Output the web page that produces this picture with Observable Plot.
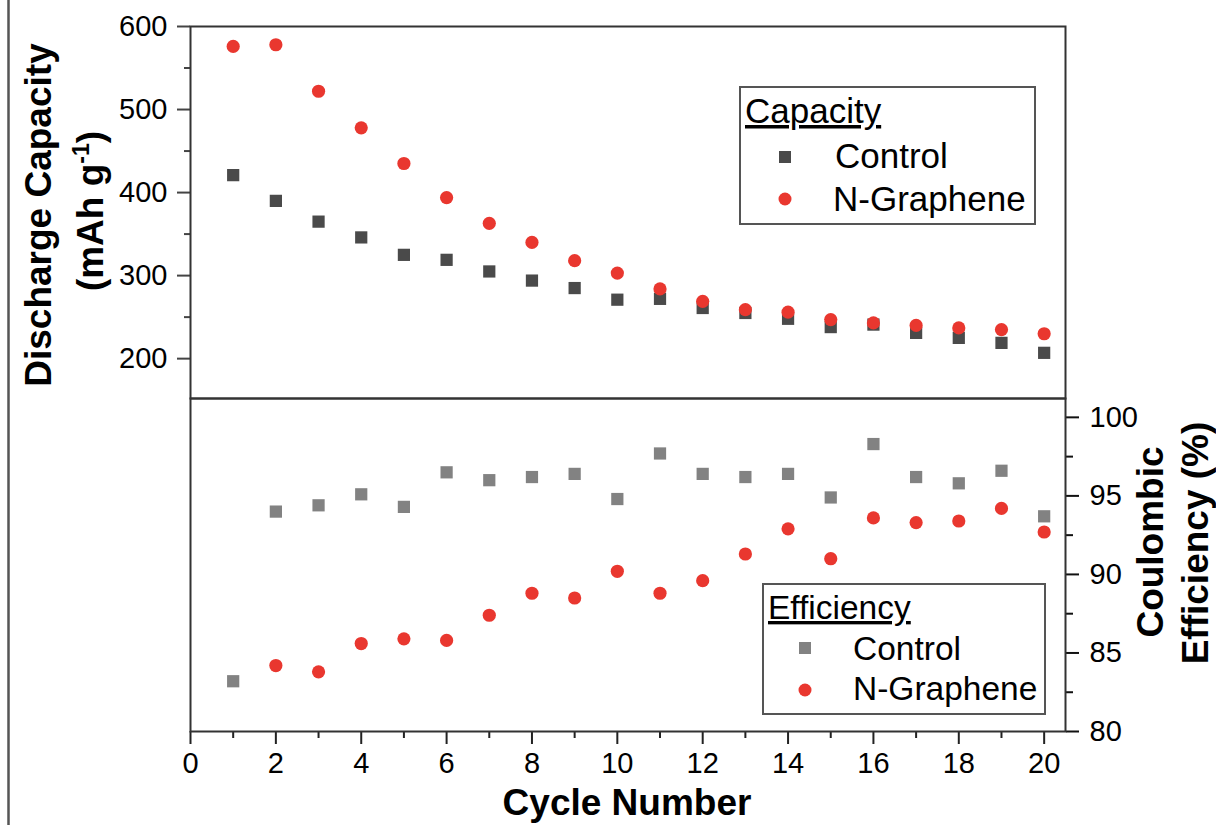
<!DOCTYPE html>
<html><head><meta charset="utf-8">
<script src="https://cdn.jsdelivr.net/npm/d3@7"></script>
<script src="https://cdn.jsdelivr.net/npm/@observablehq/plot@0.6"></script>
<style>
html,body{margin:0;padding:0;background:#fff;}
#chart{position:relative;width:1216px;height:825px;overflow:hidden;font-family:"Liberation Sans",Arial,sans-serif;}
#chart > svg{position:absolute;left:0;top:0;}
</style></head><body><div id="chart"></div>
<script>
// ---- data ----
const cycles = [1,2,3,4,5,6,7,8,9,10,11,12,13,14,15,16,17,18,19,20];
const capacityControl = [421,390,365,346,325,319,305,294,285,271,272,261,255,248,238,241,231,225,219,207];
const capacityNGraphene = [576,578,522,478,435,394,363,340,318,303,284,269,259,256,247,243,240,237,235,230];
const efficiencyControl = [83.2,94.0,94.4,95.1,94.3,96.5,96.0,96.2,96.4,94.8,97.7,96.4,96.2,96.4,94.9,98.3,96.2,95.8,96.6,93.7];
const efficiencyNGraphene = [null,84.2,83.8,85.6,85.9,85.8,87.4,88.8,88.5,90.2,88.8,89.6,91.3,92.9,91.0,93.6,93.3,93.4,94.2,92.7];
const capacityTicks = [200,300,400,500,600];
const capacityMinorTicks = [250,350,450,550];
const efficiencyTicks = [80,85,90,95,100];
const efficiencyMinorTicks = [82.5,87.5,92.5,97.5];
const cycleTicks = [0,2,4,6,8,10,12,14,16,18,20];
const cycleMinorTicks = [1,3,5,7,9,11,13,15,17,19];
const seriesNames = ["Control","N-Graphene"];

// ---- colours ----
const cControlCap = "#4a4a4a", cControlEff = "#828282", cRed = "#e9372f";

const W = 1216, H = 825;
const font = '"Liberation Sans", Arial, sans-serif';
const capData = cycles.map((c,i)=>({cycle:c, control:capacityControl[i], ng:capacityNGraphene[i]}));
const effData = cycles.map((c,i)=>({cycle:c, control:efficiencyControl[i], ng:efficiencyNGraphene[i]}));

const common = {
  width: W, height: H, marginLeft: 190, marginRight: W-1065,
  style: {fontFamily: font, fontSize: "29px", color: "#000", background: "transparent", overflow: "visible"}
};

const topPlot = Plot.plot({
  ...common,
  marginTop: 26, marginBottom: H-398,
  x: {domain:[0,20.5], axis: null},
  y: {domain:[152,600]},
  marks: [
    Plot.axisY({anchor:"left", ticks: capacityTicks, tickSize: 13, tickPadding: 10, label: null, strokeWidth: 2, stroke:"#444"}),
    Plot.axisY({anchor:"left", ticks: capacityMinorTicks, tickSize: 6, tickFormat: () => "", label: null, strokeWidth: 2, stroke:"#444"}),
    Plot.dot(capData, {x:"cycle", y:"control", symbol:"square", r:6.9, fill:cControlCap}),
    Plot.dot(capData, {x:"cycle", y:"ng", symbol:"circle", r:6.6, fill:cRed}),
    Plot.frame({stroke:"#333", strokeWidth:2})
  ]
});

const bottomPlot = Plot.plot({
  ...common,
  marginTop: 398, marginBottom: H-731,
  x: {domain:[0,20.5]},
  y: {domain:[80,101.2]},
  marks: [
    Plot.axisY({anchor:"right", ticks: efficiencyTicks, tickSize: 13, tickPadding: 11, label: null, strokeWidth: 2, stroke:"#111"}),
    Plot.axisY({anchor:"right", ticks: efficiencyMinorTicks, tickSize: 7, tickFormat: () => "", label: null, strokeWidth: 2, stroke:"#111"}),
    Plot.axisX({anchor:"bottom", ticks: cycleTicks, tickSize: 13, tickPadding: 8, label: null, strokeWidth: 2, stroke:"#222"}),
    Plot.axisX({anchor:"bottom", ticks: cycleMinorTicks, tickSize: 7, tickFormat: () => "", label: null, strokeWidth: 2, stroke:"#222"}),
    Plot.dot(effData, {x:"cycle", y:"control", symbol:"square", r:6.9, fill:cControlEff}),
    Plot.dot(effData, {x:"cycle", y:"ng", symbol:"circle", r:6.6, fill:cRed}),
    Plot.frame({stroke:"#333", strokeWidth:2})
  ]
});

const chart = document.getElementById("chart");
chart.appendChild(bottomPlot);
chart.appendChild(topPlot);

// ---- overlay: titles, legends, page border ----
const svg = d3.select(chart).append("svg")
  .attr("width", W).attr("height", H)
  .style("font-family", font).style("pointer-events","none");

svg.append("line").attr("x1",8.5).attr("x2",8.5).attr("y1",0).attr("y2",H)
  .attr("stroke","#555").attr("stroke-width",2.5);

function vtitle(x, y, txt) {
  return svg.append("text").attr("transform",`translate(${x},${y}) rotate(-90)`)
    .attr("text-anchor","middle").attr("font-weight","bold").attr("font-size",37).attr("fill","#000").text(txt);
}
vtitle(51, 215, "Discharge Capacity");
const t2 = svg.append("text").attr("transform","translate(103,211) rotate(-90)")
  .attr("text-anchor","middle").attr("font-weight","bold").attr("font-size",37).attr("fill","#000");
t2.append("tspan").text("(mAh g");
t2.append("tspan").attr("dy",-14).attr("font-size",23).text("-1");
t2.append("tspan").attr("dy",14).text(")");
vtitle(1163, 542, "Coulombic");
vtitle(1208, 543, "Efficiency (%)");
svg.append("text").attr("x",627).attr("y",815).attr("text-anchor","middle")
  .attr("font-weight","bold").attr("font-size",37).attr("fill","#000").text("Cycle Number");

function legend(box, title, titlePos, rows, fs) {
  svg.append("rect").attr("x",box[0]).attr("y",box[1]).attr("width",box[2]).attr("height",box[3])
    .attr("fill","#fff").attr("stroke","#555").attr("stroke-width",2);
  svg.append("text").attr("x",titlePos[0]).attr("y",titlePos[1]).attr("font-size",fs).attr("fill","#000")
    .style("text-decoration","underline").text(title);
  rows.forEach(r => {
    if (r.shape === "square") {
      svg.append("rect").attr("x",r.mx-6).attr("y",r.my-6).attr("width",12).attr("height",12).attr("fill",r.color);
    } else {
      svg.append("circle").attr("cx",r.mx).attr("cy",r.my).attr("r",6.5).attr("fill",r.color);
    }
    svg.append("text").attr("x",r.tx).attr("y",r.ty).attr("font-size",fs).attr("fill","#000").text(r.label);
  });
}
legend([740,87,295,137], "Capacity", [745,123], [
  {shape:"square", color:cControlCap, mx:785, my:157, tx:835, ty:168, label:seriesNames[0]},
  {shape:"circle", color:cRed, mx:785, my:199, tx:833, ty:211, label:seriesNames[1]}
], 35);
legend([763,584,282,130], "Efficiency", [768,619], [
  {shape:"square", color:cControlEff, mx:805, my:648, tx:853, ty:660, label:seriesNames[0]},
  {shape:"circle", color:cRed, mx:805, my:690, tx:853, ty:700, label:seriesNames[1]}
], 33.5);
</script></body></html>
